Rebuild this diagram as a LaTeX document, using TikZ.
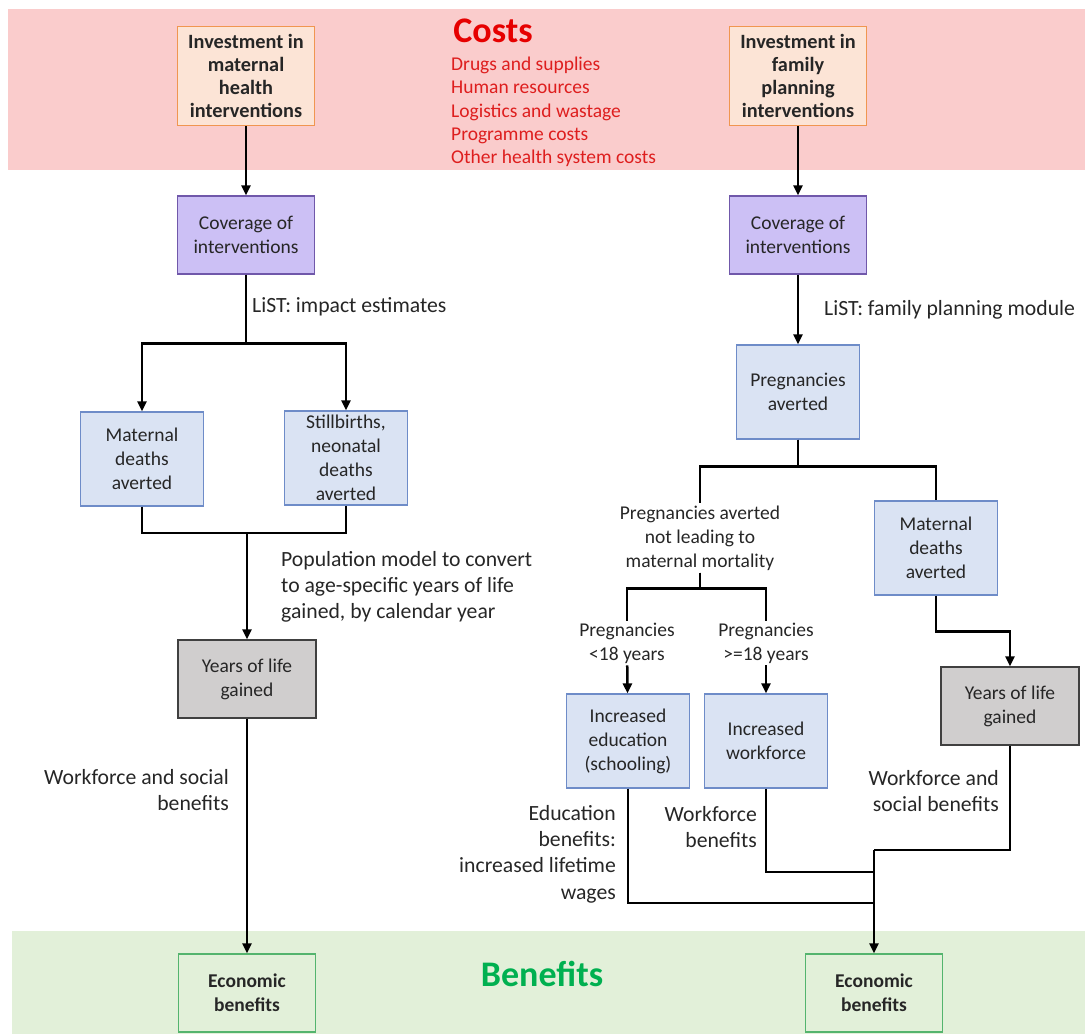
\documentclass[tikz,border=0pt]{standalone}
\usepackage{fontspec}
\setmainfont{Carlito}
\usetikzlibrary{arrows.meta}
\definecolor{costband}{RGB}{250,204,204}
\definecolor{benband}{RGB}{226,240,217}
\definecolor{invfill}{RGB}{252,228,214}
\definecolor{invdraw}{RGB}{240,150,80}
\definecolor{covfill}{RGB}{204,192,245}
\definecolor{covdraw}{RGB}{112,88,170}
\definecolor{bluefill}{RGB}{218,227,243}
\definecolor{bluedraw}{RGB}{110,140,200}
\definecolor{grayfill}{RGB}{208,206,206}
\definecolor{graydraw}{RGB}{64,64,64}
\definecolor{econfill}{RGB}{226,240,217}
\definecolor{econdraw}{RGB}{84,180,110}
\definecolor{costred}{RGB}{230,0,0}
\definecolor{listred}{RGB}{222,30,30}
\definecolor{bengreen}{RGB}{0,176,80}

\begin{document}
\begin{tikzpicture}[x=1pt,y=-1pt,
  every node/.style={font=\fontsize{19.5}{24}\selectfont, text=black!85, inner sep=2pt},
  boxbase/.style={line width=1.2pt, align=center, inner sep=0pt},
  investbox/.style={boxbase, draw=invdraw, fill=invfill, font=\fontsize{20.3}{23}\selectfont\bfseries, minimum width=137, minimum height=99},
  covbox/.style={boxbase, draw=covdraw, fill=covfill, minimum width=137, minimum height=78},
  bluebox/.style={boxbase, draw=bluedraw, fill=bluefill, minimum width=123, minimum height=94},
  graybox/.style={boxbase, draw=graydraw, fill=grayfill, minimum width=138, minimum height=78},
  econbox/.style={boxbase, draw=econdraw, fill=econfill, font=\fontsize{19.5}{24}\selectfont\bfseries, minimum width=137, minimum height=78},
  lbl/.style={font=\fontsize{21.7}{26.3}\selectfont},
  title/.style={font=\fontsize{36}{40}\selectfont\bfseries},
  link/.style={line width=2.5pt, black},
  flow/.style={link, -{Triangle[length=10pt,width=9pt]}}]
\useasboundingbox (0,0) rectangle (1085,1034);

% bands
\fill[costband] (8,9) rectangle (1085,170);
\fill[benband] (12,931) rectangle (1085,1034);

\node[title, text=costred] (costs) at (493,31) {Costs};
\node[anchor=north west, align=left, text=listred, inner sep=0pt,
  font=\fontsize{19.5}{23.2}\selectfont] (costlist) at (451,57)
  {Drugs and supplies\\Human resources\\Logistics and wastage\\Programme costs\\Other health system costs};
\node[title, text=bengreen] (benefits) at (542,974) {Benefits};

% maternal health column
\node[investbox] (invMH) at (246,76) {Investment in\\maternal\\health\\interventions};
\node[covbox] (covMH) at (246,235) {Coverage of\\interventions};
\node[bluebox] (matMH) at (142,459) {Maternal\\deaths\\averted};
\node[bluebox] (stillMH) at (346,458) {Stillbirths,\\neonatal\\deaths\\averted};
\node[graybox] (yllMH) at (247,679) {Years of life\\gained};
\node[econbox] (econMH) at (247,993) {Economic\\benefits};
\coordinate (mergeMH) at (247,533);

\node[lbl, anchor=west] (listMH) at (250,307) {LiST: impact estimates};
\node[lbl, anchor=north west, align=left] (popMH) at (279,549)
  {Population model to convert\\to age-specific years of life\\gained, by calendar year};
\node[lbl, anchor=east, align=right] (wfMH) at (231,790) {Workforce and social\\benefits};

\draw[flow] (invMH) -- (covMH);
\draw[flow] (covMH.south) -- ++(0,69) -| (matMH.north);
\draw[flow] (covMH.south) -- ++(0,69) -| (stillMH.north);
\draw[link] (matMH.south) |- (mergeMH);
\draw[link] (stillMH.south) |- (mergeMH);
\draw[flow] (mergeMH) -- (yllMH.north);
\draw[flow] (yllMH) -- (econMH);

% family planning column
\node[investbox] (invFP) at (798,76) {Investment in\\family\\planning\\interventions};
\node[covbox] (covFP) at (798,235) {Coverage of\\interventions};
\node[bluebox] (pregFP) at (798,392) {Pregnancies\\averted};
\node[align=center] (notmortFP) at (700,538) {Pregnancies averted\\not leading to\\maternal mortality};
\node[bluebox] (matFP) at (936,548) {Maternal\\deaths\\averted};
\node[align=center] (under18) at (627,643) {Pregnancies\\<18 years};
\node[align=center] (over18) at (766,643) {Pregnancies\\>=18 years};
\node[bluebox] (eduFP) at (628,741) {Increased\\education\\(schooling)};
\node[bluebox] (workFP) at (766,741) {Increased\\workforce};
\node[graybox] (yllFP) at (1010,706) {Years of life\\gained};
\node[econbox] (econFP) at (874,993) {Economic\\benefits};
\coordinate (joinFP) at (874,850);

\node[lbl, anchor=west] (listFP) at (822,310) {LiST: family planning module};
\node[lbl, anchor=east, align=right] (wfFP) at (1001,791) {Workforce and\\social benefits};
\node[lbl, anchor=east, align=right] (eduben) at (618,854) {Education\\benefits:\\increased lifetime\\wages};
\node[lbl, anchor=east, align=right] (workben) at (759,827) {Workforce\\benefits};

\draw[flow] (invFP) -- (covFP);
\draw[flow] (covFP) -- (pregFP);
\draw[link] (pregFP.south) -- ++(0,27) -| (notmortFP.north);
\draw[link] (pregFP.south) -- ++(0,27) -| (matFP.north);
\draw[link] (notmortFP.south) -- ++(0,16) -| (under18.north);
\draw[link] (notmortFP.south) -- ++(0,16) -| (over18.north);
\draw[flow] (under18) -- (eduFP);
\draw[flow] (over18) -- (workFP);
\draw[flow] (matFP.south) -- ++(0,36) -| (yllFP.north);
\draw[link] (yllFP.south) |- (joinFP);
\draw[link] (workFP.south) |- (econFP.north |- 0,872);
\draw[link] (eduFP.south) |- (econFP.north |- 0,903);
\draw[flow] (joinFP) -- (econFP.north);
\end{tikzpicture}
\end{document}
